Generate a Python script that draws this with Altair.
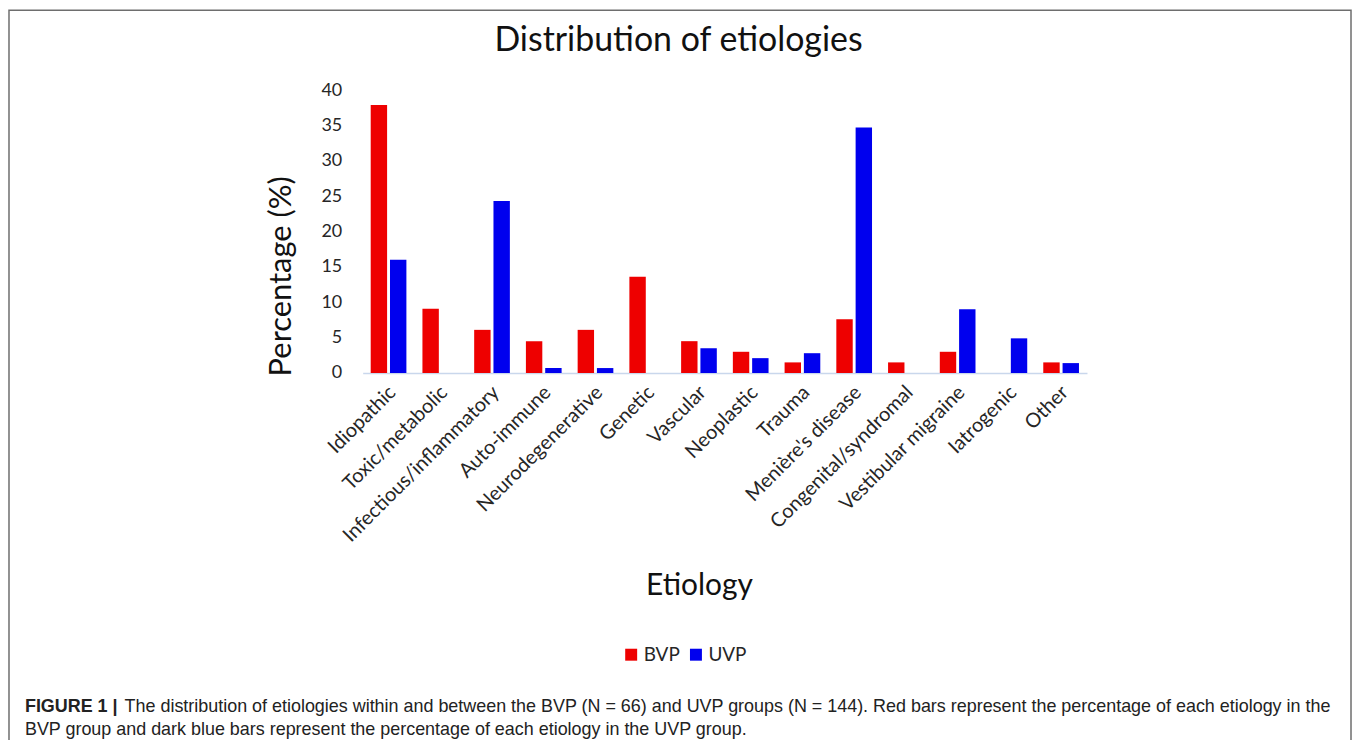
import altair as alt
import pandas as pd

categories = ["Idiopathic", "Toxic/metabolic", "Infectious/inflammatory", "Auto-immune",
              "Neurodegenerative", "Genetic", "Vascular", "Neoplastic", "Trauma",
              "Menière's disease", "Congenital/syndromal", "Vestibular migraine",
              "Iatrogenic", "Other"]
bvp = [37.9, 9.1, 6.1, 4.5, 6.1, 13.6, 4.5, 3.0, 1.5, 7.6, 1.5, 3.0, 0.0, 1.5]
uvp = [16.0, 0.0, 24.3, 0.7, 0.7, 0.0, 3.5, 2.1, 2.8, 34.7, 0.0, 9.0, 4.9, 1.4]
groups = ["BVP", "UVP"]
colors = ["#ee0000", "#0000ee"]
y_ticks = [0, 5, 10, 15, 20, 25, 30, 35, 40]

title_text = "Distribution of etiologies"
y_title = "Percentage (%)"
x_title = "Etiology"
caption_bold = "FIGURE 1 |"
caption_1 = ("The distribution of etiologies within and between the BVP (N = 66) and UVP groups (N = 144). "
             "Red bars represent the percentage of each etiology in the")
caption_2 = "BVP group and dark blue bars represent the percentage of each etiology in the UVP group."

rows = []
for c, b, u in zip(categories, bvp, uvp):
    rows.append({"Etiology": c, "Group": groups[0], "Percentage": b})
    rows.append({"Etiology": c, "Group": groups[1], "Percentage": u})
df = pd.DataFrame(rows)

W, H = 727, 284
PAD_L, PAD_T = 356, 81
TOTAL_W, TOTAL_H = 1349, 732

bars = alt.Chart(df).mark_bar().encode(
    x=alt.X("Etiology:N", sort=categories,
            scale=alt.Scale(paddingInner=0.31, paddingOuter=0.155),
            axis=alt.Axis(title=None, labelAngle=-45, labelFont="Lato", labelFontSize=20,
                          labelColor="#262626", ticks=False, labelPadding=9, labelLimit=0,
                          labelOffset=-3, domainColor="#c9d7ec", domainWidth=1.5)),
    xOffset=alt.XOffset("Group:N", sort=groups, scale=alt.Scale(paddingInner=0.15)),
    y=alt.Y("Percentage:Q", scale=alt.Scale(domain=[0, 40]),
            axis=alt.Axis(title=None, values=y_ticks, grid=False, domain=False, ticks=False,
                          labelFont="Lato", labelFontSize=18, labelColor="#262626",
                          labelPadding=21)),
    color=alt.Color("Group:N", sort=groups,
                    scale=alt.Scale(domain=groups, range=colors),
                    legend=alt.Legend(title=None, orient="none", direction="horizontal",
                                      legendX=260, legendY=557, symbolType="square",
                                      symbolSize=144, symbolStrokeWidth=0,
                                      labelFont="Lato", labelFontSize=19, labelColor="#262626",
                                      columnPadding=6, labelOffset=3, padding=0)),
)

def text_layer(txt, x, y, size, font="Lato", weight="normal", angle=0, align="center",
               baseline="middle", color="#111111"):
    return alt.Chart(pd.DataFrame({"t": [txt]})).mark_text(
        font=font, fontSize=size, fontWeight=weight, angle=angle, align=align,
        baseline=baseline, color=color
    ).encode(text="t:N", x=alt.value(x), y=alt.value(y))

title_l = text_layer(title_text, 317, -49, 34)
ytitle_l = text_layer(y_title, -81, 187, 31, angle=270)
xtitle_l = text_layer(x_title, 338, 498, 30)
cap_b = text_layer(caption_bold, -339, 624, 18, font="Liberation Sans", weight="bold",
                   align="left", baseline="alphabetic", color="#222222")
cap_1 = text_layer(caption_1, -239, 624, 18, font="Liberation Sans",
                   align="left", baseline="alphabetic", color="#222222")
cap_2 = text_layer(caption_2, -339, 647, 18, font="Liberation Sans",
                   align="left", baseline="alphabetic", color="#222222")

border = alt.Chart(pd.DataFrame({"k": [0]})).mark_rect(
    fillOpacity=0, stroke="#6e6e6e", strokeWidth=1.5
).encode(x=alt.value(-355), x2=alt.value(TOTAL_W - PAD_L - 1),
         y=alt.value(-80), y2=alt.value(TOTAL_H))

chart = alt.layer(border, bars, title_l, ytitle_l, xtitle_l, cap_b, cap_1, cap_2).properties(
    width=W, height=H,
    autosize=alt.AutoSizeParams(type="none"),
    padding={"left": PAD_L, "top": PAD_T, "right": TOTAL_W - PAD_L - W,
             "bottom": TOTAL_H - PAD_T - H},
    background="white",
).configure_view(stroke=None)

chart.save("out.html", embed_options={"renderer": "svg", "actions": False})
